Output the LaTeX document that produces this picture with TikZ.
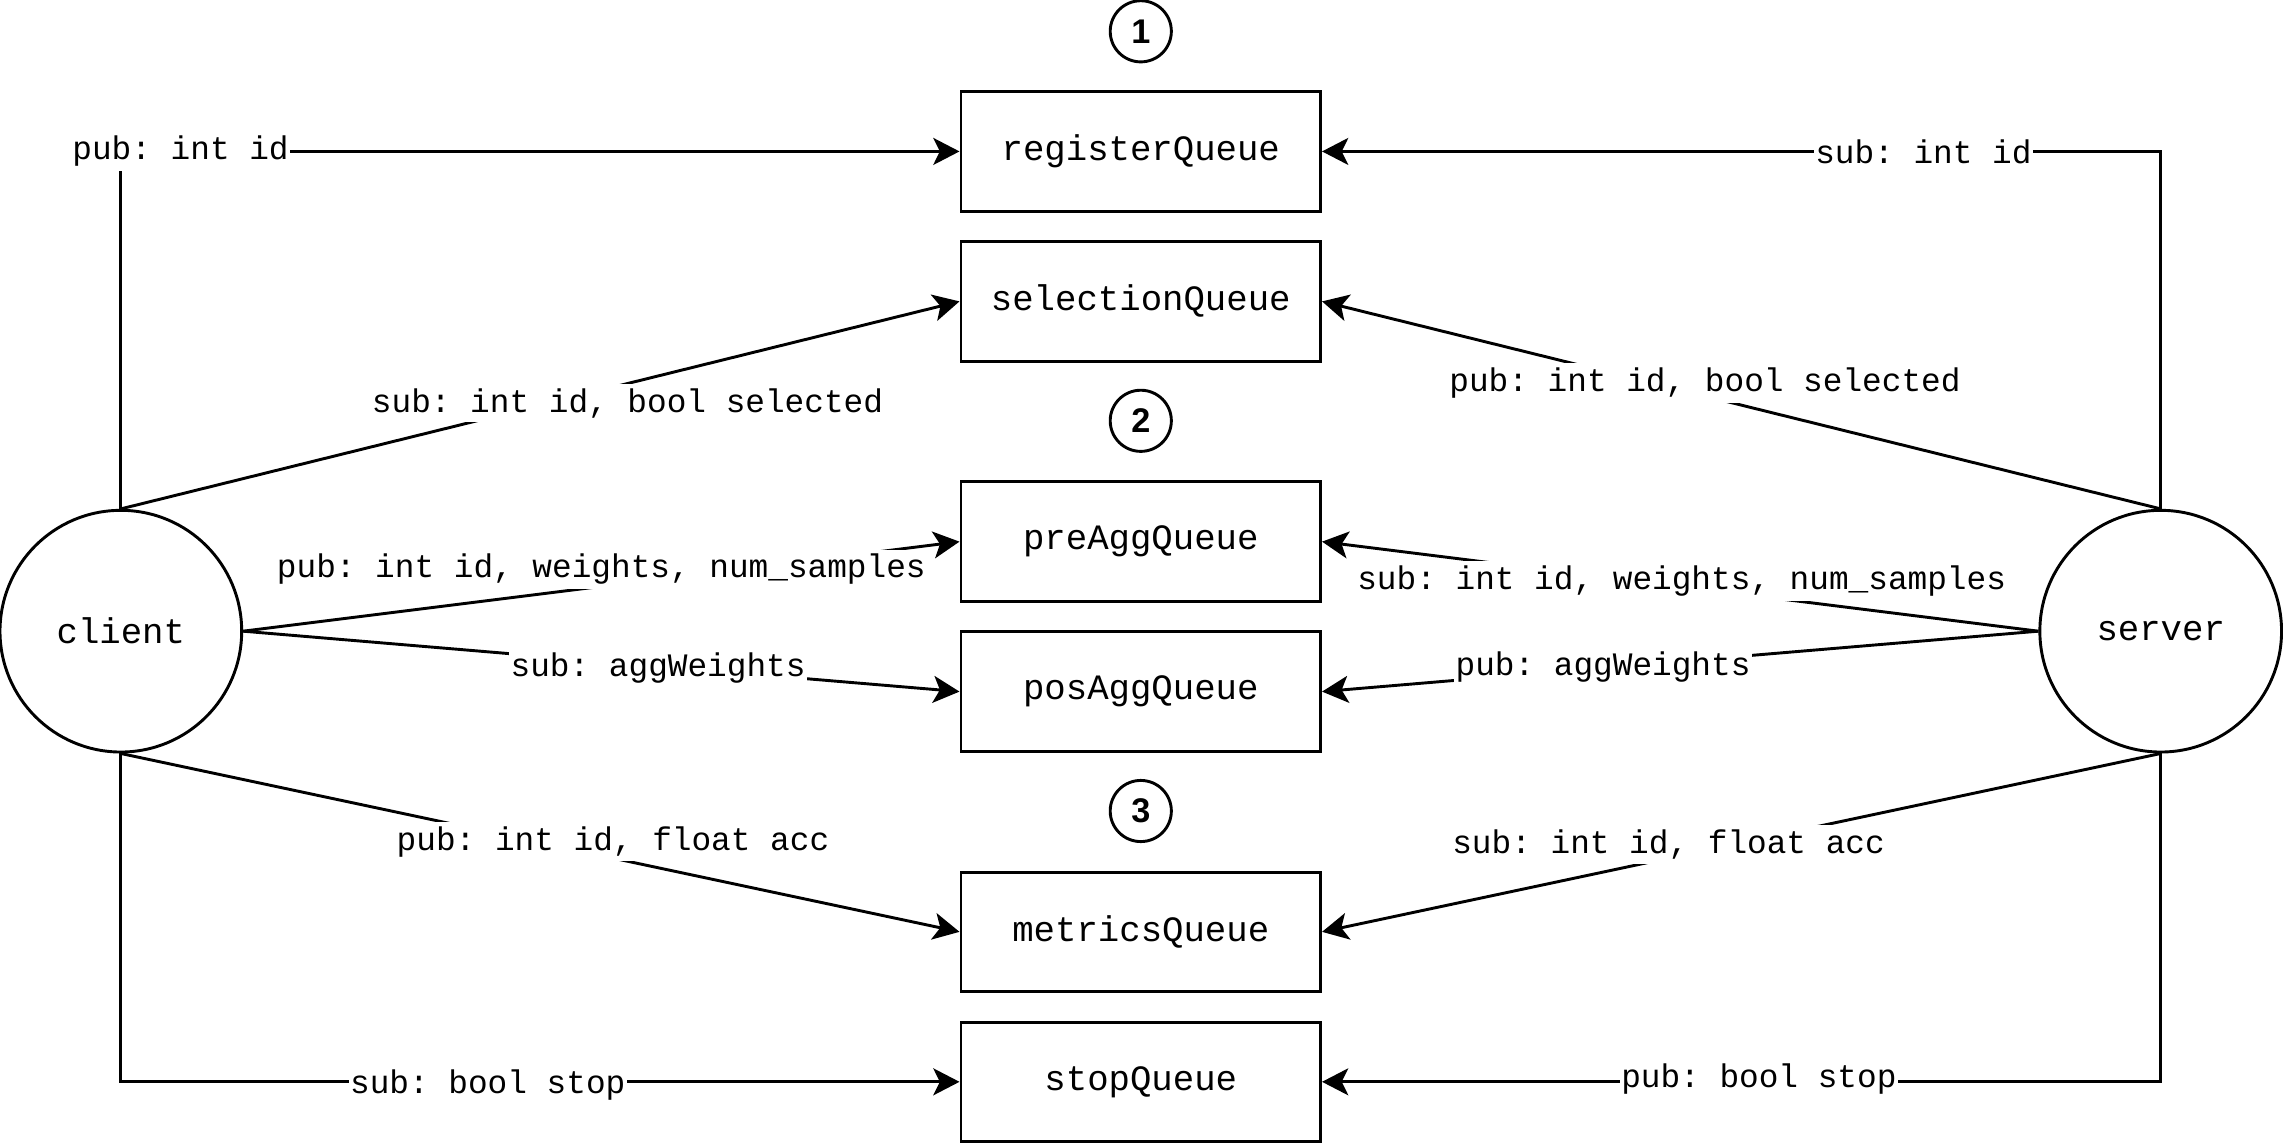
\documentclass[tikz,border=0pt]{standalone}
\usepackage{fontspec}
\setmonofont{Liberation Mono}
\newfontfamily\numfont{Liberation Sans}
\usetikzlibrary{arrows.meta}
\tikzset{
  queue/.style={draw, line width=2pt, minimum width=247pt, minimum height=82pt, inner sep=0pt,
    font=\ttfamily\fontsize{24.5}{28}\selectfont},
  actor/.style={draw, circle, line width=2pt, minimum size=166pt, inner sep=0pt,
    font=\ttfamily\fontsize{24.5}{28}\selectfont},
  numc/.style={draw, circle, line width=2pt, minimum size=42pt, inner sep=0pt,
    font=\numfont\bfseries\fontsize{23.5}{26}\selectfont},
  conn/.style={line width=2pt, -{Stealth[length=18pt, width=18.5pt, inset=4.5pt]}},
  lbl/.style={fill=white, inner xsep=1pt, inner ysep=3pt,
    font=\ttfamily\fontsize{22.5}{26}\selectfont}
}
\begin{document}
\begin{tikzpicture}[x=1pt, y=-1pt]
\useasboundingbox (0,0) rectangle (1568,785);
\node[queue] (reg) at (783.5,104) {registerQueue};
\node[queue] (sel) at (783.5,207) {selectionQueue};
\node[queue] (pre) at (783.5,372) {preAggQueue};
\node[queue] (pos) at (783.5,475) {posAggQueue};
\node[queue] (met) at (783.5,640) {metricsQueue};
\node[queue] (stp) at (783.5,743) {stopQueue};
\node[numc] (n1) at (783.5,21.5) {1};
\node[numc] (n2) at (783.5,289) {2};
\node[numc] (n3) at (783.5,557) {3};
\node[actor] (client) at (83,433.5) {client};
\node[actor] (server) at (1484,433.5) {server};

\draw[conn] (client.north) |- (reg.west) node[lbl] at (124,104) {pub: int id};
\draw[conn] (server.north) |- (reg.east) node[lbl] at (1321,104) {sub: int id};
\draw[conn] (client.north) -- (sel.west) node[lbl] at (431,277) {sub: int id, bool selected};
\draw[conn] (server.north) -- (sel.east) node[lbl] at (1171,263) {pub: int id, bool selected};
\draw[conn] (client.east) -- (pre.west) node[lbl] at (413,391) {pub: int id, weights, num\_samples};
\draw[conn] (server.west) -- (pre.east) node[lbl] at (1155,399) {sub: int id, weights, num\_samples};
\draw[conn] (client.east) -- (pos.west) node[lbl] at (452,459) {sub: aggWeights};
\draw[conn] (server.west) -- (pos.east) node[lbl] at (1101,458) {pub: aggWeights};
\draw[conn] (client.south) -- (met.west) node[lbl] at (421,578) {pub: int id, float acc};
\draw[conn] (server.south) -- (met.east) node[lbl] at (1146,580) {sub: int id, float acc};
\draw[conn] (client.south) |- (stp.west) node[lbl] at (335,745) {sub: bool stop};
\draw[conn] (server.south) |- (stp.east) node[lbl] at (1208,741) {pub: bool stop};
\end{tikzpicture}
\end{document}
